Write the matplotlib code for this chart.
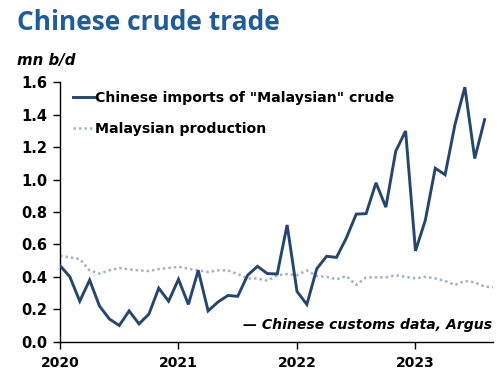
import matplotlib
matplotlib.use("Agg")
import matplotlib.pyplot as plt
import numpy as np

# Monthly data, Jan 2020 onwards
imports = [0.47, 0.40, 0.25, 0.38, 0.22, 0.14, 0.10, 0.19, 0.11, 0.17, 0.33, 0.25,
           0.385, 0.23, 0.44, 0.19, 0.245, 0.285, 0.28, 0.41, 0.465, 0.42, 0.418, 0.72,
           0.31, 0.23, 0.45, 0.527, 0.52, 0.64, 0.787, 0.79, 0.98, 0.83, 1.175, 1.30,
           0.56, 0.75, 1.07, 1.03, 1.34, 1.57, 1.13, 1.37]
production = [0.53, 0.52, 0.51, 0.44, 0.42, 0.44, 0.455, 0.446, 0.44, 0.436, 0.448, 0.455,
              0.462, 0.45, 0.44, 0.43, 0.44, 0.44, 0.417, 0.39, 0.39, 0.376, 0.41, 0.417,
              0.41, 0.44, 0.405, 0.40, 0.385, 0.405, 0.35, 0.397, 0.397, 0.397, 0.41, 0.40,
              0.39, 0.40, 0.39, 0.375, 0.35, 0.375, 0.366, 0.34, 0.335]
year_labels = ["2020", "2021", "2022", "2023"]
y_ticks = [0.0, 0.2, 0.4, 0.6, 0.8, 1.0, 1.2, 1.4, 1.6]

label_imports = 'Chinese imports of "Malaysian" crude'
label_prod = "Malaysian production"
source = "\u2014 Chinese customs data, Argus"
title = "Chinese crude trade"
unit = "mn b/d"

fig = plt.figure(figsize=(5, 3.75), dpi=100)
ax = fig.add_axes([0.12, 0.0888, 0.866, 0.6917])

x_imp = np.arange(len(imports))
x_prod = np.arange(len(production))
ax.plot(x_prod, production, color="#a3b4c7", lw=1.8, ls=(0, (1, 1.2)),
        label=label_prod, zorder=2)
ax.plot(x_imp, imports, color="#27466e", lw=2.1, label=label_imports, zorder=3,
        solid_joinstyle="miter")

ax.set_xlim(0, 43.85)
ax.set_ylim(0, 1.6)
ax.set_xticks([0, 12, 24, 36])
ax.set_xticklabels(year_labels)
ax.set_yticks(y_ticks)
ax.set_yticklabels([f"{v:.1f}" for v in y_ticks])

for s in ["top", "right"]:
    ax.spines[s].set_visible(False)
for s in ["left", "bottom"]:
    ax.spines[s].set_linewidth(1.0)
    ax.spines[s].set_color("black")

ax.tick_params(axis="both", direction="out", length=5, width=1, colors="black")
ax.tick_params(axis="y", pad=4)
ax.tick_params(axis="x", pad=5)
for lab in ax.get_yticklabels():
    lab.set_fontsize(10.5)
    lab.set_fontweight("bold")
    lab.set_family("DejaVu Sans")
for lab in ax.get_xticklabels():
    lab.set_fontsize(10)
    lab.set_fontweight("bold")
    lab.set_family("DejaVu Sans")

h, l = ax.get_legend_handles_labels()
leg = ax.legend([h[1], h[0]], [l[1], l[0]], loc="upper left",
                bbox_to_anchor=(0.03, 0.965), frameon=False,
                prop={"family": "DejaVu Sans", "weight": "bold", "size": 10.2},
                handlelength=1.45, handletextpad=0.08, labelspacing=1.15,
                borderaxespad=0, borderpad=0)

ax.text(0.998, 0.065, source, transform=ax.transAxes, ha="right", va="center",
        fontsize=10.1, fontweight="bold", fontstyle="italic", family="DejaVu Sans")

fig.text(17 / 500, 1 - 30 / 375, title, color="#1f5c9a", fontsize=19,
         fontweight="bold", family="Open Sans", va="baseline", ha="left")
fig.text(17 / 500, 1 - 65 / 375, unit, fontsize=10.8, fontweight="bold",
         fontstyle="italic", family="DejaVu Sans", va="baseline", ha="left")

fig.savefig("out.png", dpi=100)
